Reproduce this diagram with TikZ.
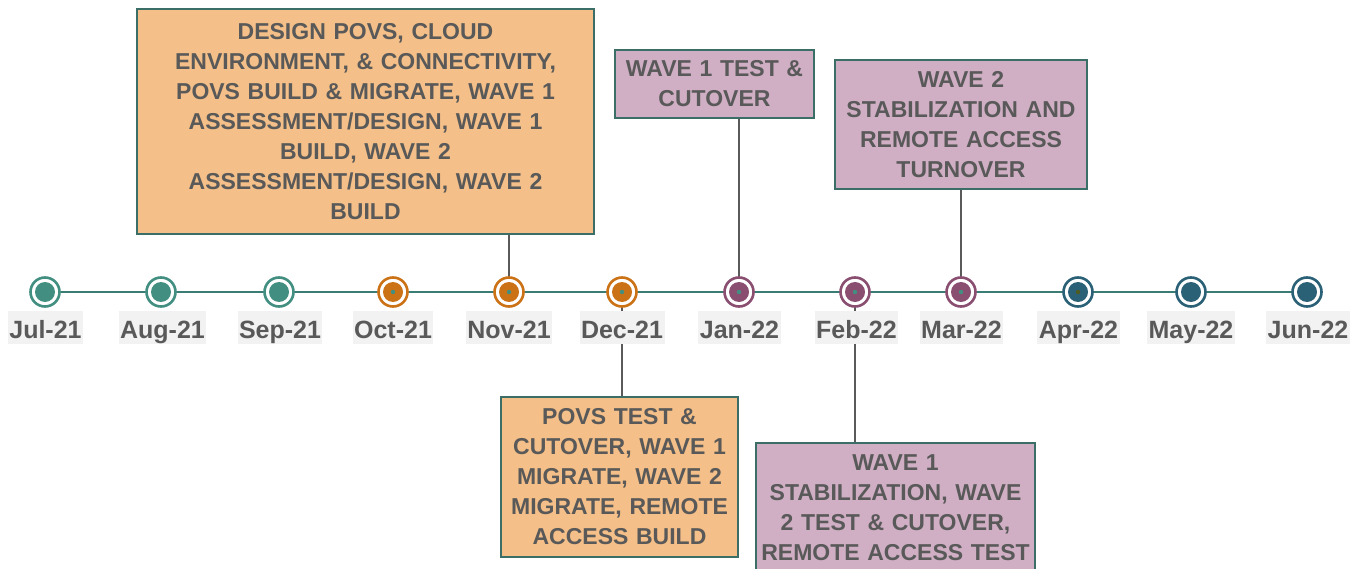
\documentclass[tikz,border=0pt]{standalone}
\usepackage{fontspec}
\setmainfont{Liberation Sans}
\usetikzlibrary{backgrounds}
\definecolor{cteal}{HTML}{428F81}
\definecolor{corange}{HTML}{CB7217}
\definecolor{cpurple}{HTML}{8A4E70}
\definecolor{cblue}{HTML}{2B6177}
\definecolor{cline}{HTML}{3B7D74}
\definecolor{colive}{HTML}{4E5A1E}
\definecolor{ctext}{HTML}{595959}
\definecolor{clabel}{HTML}{F2F2F2}
\definecolor{cpeach}{HTML}{F4BF88}
\definecolor{cmauve}{HTML}{D0AFC4}
\definecolor{cborder}{HTML}{3C6E68}
\definecolor{cconn}{HTML}{5A5A5A}
\tikzset{
  marker/.style 2 args={circle, draw=#1, line width=2.6pt, fill=white, minimum size=29pt, inner sep=0pt,
    path picture={\fill[#1] (path picture bounding box.center) circle (10pt);
                  \fill[#2] (path picture bounding box.center) circle (2.2pt);}},
  mlabel/.style={fill=clabel, text=ctext, font={\fontsize{25}{30}\selectfont\bfseries},
    inner xsep=1.5pt, inner ysep=0pt, text height=28pt, text depth=5pt},
  taskbox/.style={draw=cborder, line width=1.6pt, text=ctext, align=center, inner sep=0pt,
    font={\fontsize{23}{30}\selectfont\bfseries}},
  conn/.style={draw=cconn, line width=1.5pt},
  tline/.style={draw=cline, line width=2.2pt}
}
\begin{document}
\begin{tikzpicture}[x=1pt,y=-1pt]
\useasboundingbox (0,0) rectangle (1367,569);
\clip (0,0) rectangle (1367,569);
% markers
\node[marker={cteal}{cteal}] (m1) at (45,292) {};
\node[marker={cteal}{cteal}] (m2) at (161,292) {};
\node[marker={cteal}{cteal}] (m3) at (279,292) {};
\node[marker={corange}{cteal}] (m4) at (393,292) {};
\node[marker={corange}{cteal}] (m5) at (509,292) {};
\node[marker={corange}{cteal}] (m6) at (622,292) {};
\node[marker={cpurple}{cteal}] (m7) at (739,292) {};
\node[marker={cpurple}{cteal}] (m8) at (855,292) {};
\node[marker={cpurple}{cteal}] (m9) at (961,292) {};
\node[marker={cblue}{colive}] (m10) at (1078,292) {};
\node[marker={cblue}{cblue}] (m11) at (1191,292) {};
\node[marker={cblue}{cblue}] (m12) at (1307,292) {};
% labels
\node[mlabel] (l1) at (45.5,327) {Jul-21};
\node[mlabel] (l2) at (162.5,327) {Aug-21};
\node[mlabel] (l3) at (280,327) {Sep-21};
\node[mlabel] (l4) at (393,327) {Oct-21};
\node[mlabel] (l5) at (509,327) {Nov-21};
\node[mlabel] (l6) at (622,327) {Dec-21};
\node[mlabel] (l7) at (739.5,327) {Jan-22};
\node[mlabel] (l8) at (856.5,327) {Feb-22};
\node[mlabel] (l9) at (961.5,327) {Mar-22};
\node[mlabel] (l10) at (1078.5,327) {Apr-22};
\node[mlabel] (l11) at (1191,327) {May-22};
\node[mlabel] (l12) at (1308,327) {Jun-22};
% boxes
\node[taskbox, fill=cpeach, minimum width=457pt, minimum height=225pt, text width=450pt] (b1) at (365.5,121.7)
  {DESIGN POVS, CLOUD\\ENVIRONMENT, \& CONNECTIVITY,\\POVS BUILD \& MIGRATE, WAVE 1\\ASSESSMENT/DESIGN, WAVE 1\\BUILD, WAVE 2\\ASSESSMENT/DESIGN, WAVE 2\\BUILD};
\node[taskbox, fill=cmauve, minimum width=199pt, minimum height=68pt, text width=195pt] (b2) at (714.5,84)
  {WAVE 1 TEST \&\\CUTOVER};
\node[taskbox, fill=cmauve, minimum width=252pt, minimum height=129pt, text width=248pt] (b3) at (961,124.5)
  {WAVE 2\\STABILIZATION AND\\REMOTE ACCESS\\TURNOVER};
\node[taskbox, fill=cpeach, minimum width=237pt, minimum height=160pt, text width=233pt] (b4) at (619.5,477)
  {POVS TEST \&\\CUTOVER, WAVE 1\\MIGRATE, WAVE 2\\MIGRATE, REMOTE\\ACCESS BUILD};
\node[taskbox, fill=cmauve, minimum width=279pt, minimum height=130pt, text width=275pt] (b5) at (895.5,508)
  {WAVE 1\\STABILIZATION, WAVE\\2 TEST \& CUTOVER,\\REMOTE ACCESS TEST};
% connectors and timeline behind
\begin{pgfonlayer}{background}
\draw[tline] (m1.center) -- (m12.center);
\draw[conn] (b1.south -| m5.center) -- (m5.center);
\draw[conn] (b2.south -| m7.center) -- (m7.center);
\draw[conn] (b3.south -| m9.center) -- (m9.center);
\draw[conn] (m6.center) -- (b4.north -| m6.center);
\draw[conn] (m8.center) -- (b5.north -| m8.center);
\end{pgfonlayer}
\end{tikzpicture}
\end{document}
